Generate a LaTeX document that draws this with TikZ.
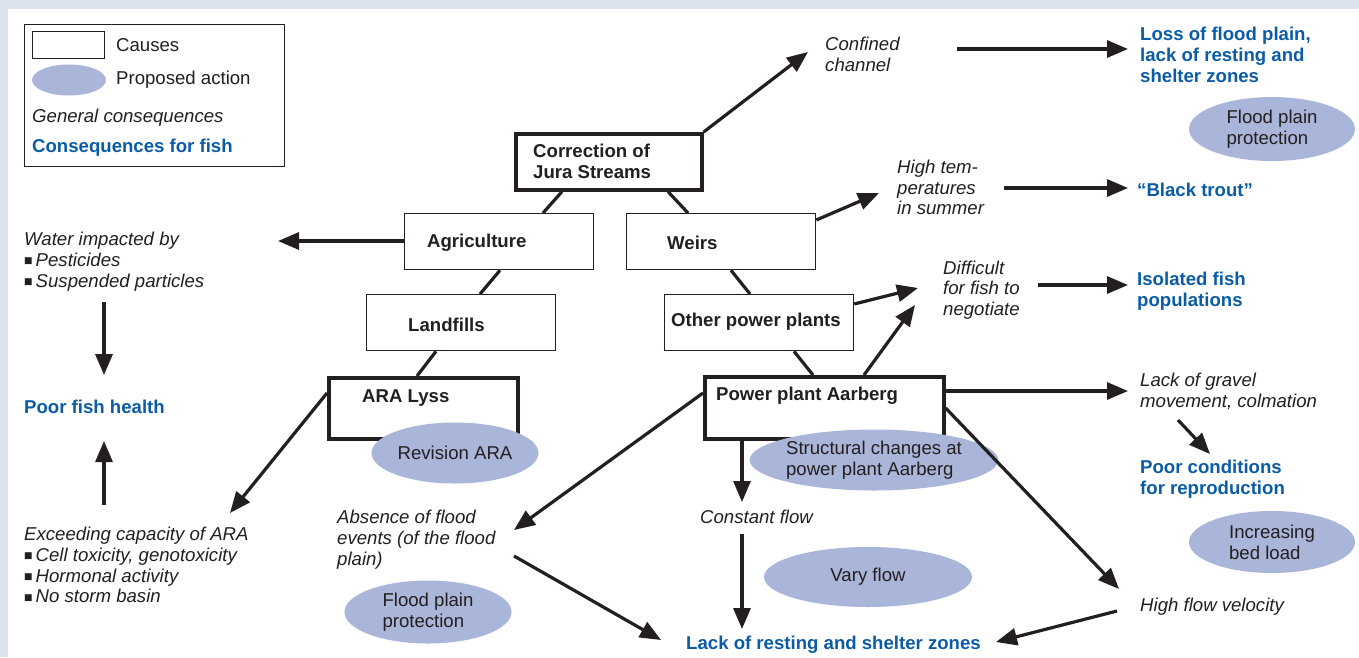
\documentclass[tikz,border=0pt]{standalone}
\usepackage{fontspec}
\setmainfont{Liberation Sans}
\newfontfamily\symfont{DejaVu Sans}
\usetikzlibrary{arrows.meta,shapes.geometric,calc}
\definecolor{bandc}{HTML}{DDE3EE}
\definecolor{actfill}{HTML}{A9B5D9}
\definecolor{fishblue}{HTML}{0B5CA6}
\definecolor{ink}{HTML}{231F20}
\newcommand{\bodyfont}{\fontsize{18.6}{20.8}\selectfont}
\newcommand{\sqb}{\raisebox{2.6pt}{\symfont\fontsize{9}{9}\selectfont ■}\hspace{3pt}}
\begin{document}
\begin{tikzpicture}[x=1pt,y=-1pt,
  every node/.append style={text=ink},
  box/.style={draw=ink, line width=1.3pt, fill=white, minimum width=189pt, minimum height=56pt, anchor=north west, inner sep=0},
  tbox/.style={box, line width=3.6pt},
  btxt/.style={font=\bodyfont\bfseries, anchor=west, inner sep=0, align=left},
  act/.style={ellipse, fill=actfill, inner sep=0, font=\bodyfont, align=left},
  gen/.style={font=\bodyfont\itshape, anchor=west, inner sep=0, align=left},
  fish/.style={font=\bodyfont\bfseries, text=fishblue, anchor=west, inner sep=0, align=left},
  plain/.style={font=\bodyfont, anchor=west, inner sep=0, align=left},
  link/.style={draw=ink, line width=3.2pt},
  arr/.style={draw=ink, line width=3.2pt, -{Triangle[length=21pt,width=17pt]}}
]
\useasboundingbox (0,0) rectangle (1359,657);
\fill[white] (0,0) rectangle (1359,657);
\fill[bandc] (0,0) rectangle (1359,9);
\fill[bandc] (0,0) rectangle (8,657);

% legend
\node[draw=ink, line width=1.2pt, minimum width=260pt, minimum height=142pt, anchor=north west, inner sep=0] (legend) at (24,24) {};
\node[draw=ink, line width=1.2pt, minimum width=72pt, minimum height=27pt, anchor=north west, inner sep=0] (lgbox) at (32,31) {};
\node[ellipse, fill=actfill, minimum width=74pt, minimum height=31pt, inner sep=0] (lgell) at (69,80) {};
\node[plain] (lgcause) at (116,45) {Causes};
\node[plain] (lgact) at (116,80) {Proposed action};
\node[gen] (lggen) at (32,118) {General consequences};
\node[fish] (lgfish) at (32,148) {Consequences for fish};

% cause boxes
\node[tbox, minimum width=186pt] (corr) at (514,132) {};
\node[btxt] (corrt) at (533,161) {Correction of\\Jura Streams};
\node[box] (agri) at (404,213) {};
\node[btxt] (agrit) at (427,243) {Agriculture};
\node[box] (weirs) at (626,213) {};
\node[btxt] (weirst) at (667,243) {Weirs};
\node[box] (land) at (366,294) {};
\node[btxt] (landt) at (408,325) {Landfills};
\node[box] (other) at (664,294) {};
\node[btxt] (othert) at (671,322) {Other power plants};
\node[tbox, minimum height=61pt] (ara) at (327,376) {};
\node[btxt] (arat) at (362,398) {ARA Lyss};
\node[tbox, minimum width=239pt, minimum height=62pt] (aar) at (703,375) {};
\node[btxt] (aart) at (716,396) {Power plant Aarberg};

% links between boxes
\draw[link] ($(corr.south west)+(48,0)$) -- ($(agri.north west)+(139,0)$);
\draw[link] ($(corr.south west)+(154,0)$) -- ($(weirs.north west)+(62,0)$);
\draw[link] ($(agri.south west)+(96,0)$) -- ($(land.north west)+(114,0)$);
\draw[link] ($(weirs.south west)+(105,0)$) -- ($(other.north west)+(86,0)$);
\draw[link] ($(land.south west)+(70,0)$) -- ($(ara.north west)+(90,0)$);
\draw[link] ($(other.south west)+(130,0)$) -- ($(aar.north west)+(110,0)$);

% proposed actions
\node[act, minimum width=166pt, minimum height=64pt] (fpp1) at (1272,129) {Flood plain\\protection};
\node[act, minimum width=167pt, minimum height=61pt] (rev) at (455,453) {Revision ARA};
\node[act, minimum width=209pt, minimum height=61pt] (struct) at (874,460) {Structural changes at\\power plant Aarberg};
\node[act, minimum width=208pt, minimum height=60pt] (vary) at (868,577) {Vary flow};
\node[act, minimum width=166pt, minimum height=62pt] (bed) at (1272,542) {Increasing\\bed load};
\node[act, minimum width=167pt, minimum height=63pt] (fpp2) at (428,612) {Flood plain\\protection};

% consequences
\node[gen] (conf) at (825,54) {Confined\\channel};
\node[fish] (loss) at (1140,55) {Loss of flood plain,\\lack of resting and\\shelter zones};
\node[gen] (hight) at (897,187.5) {High tem-\\peratures\\in summer};
\node[fish] (trout) at (1137,190) {“Black trout”};
\node[gen] (water) at (24,261.5) {Water impacted by\\\sqb Pesticides\\\sqb Suspended particles};
\node[fish] (poorh) at (24,407) {Poor fish health};
\node[gen] (exceed) at (24,565) {Exceeding capacity of ARA\\\sqb Cell toxicity, genotoxicity\\\sqb Hormonal activity\\\sqb No storm basin};
\node[gen] (diff) at (943,290) {Difficult\\for fish to\\negotiate};
\node[fish] (iso) at (1137,291) {Isolated fish\\populations};
\node[gen] (gravel) at (1140,391.5) {Lack of gravel\\movement, colmation};
\node[fish] (poorrep) at (1140,479.5) {Poor conditions\\for reproduction};
\node[gen] (absence) at (337,539.5) {Absence of flood\\events (of the flood\\plain)};
\node[gen] (const) at (700,517) {Constant flow};
\node[gen] (hfv) at (1140,607) {High flow velocity};
\node[fish] (lackrest) at (686,645) {Lack of resting and shelter zones};

% arrow end points
\coordinate (eConf) at (808,52);
\coordinate (sConf) at (957,49);
\coordinate (eLoss) at (1128,49);
\coordinate (eHigh) at (879,193);
\coordinate (sHigh) at (1004,188);
\coordinate (eTrout) at (1128,188);
\coordinate (eWater) at (278,241);
\coordinate (eDiff1) at (918,288);
\coordinate (eDiff2) at (915,305);
\coordinate (sDiff) at (1038,285);
\coordinate (eIso) at (1128,285);
\coordinate (eGravel) at (1128,391);
\coordinate (sGravel) at (1178,420);
\coordinate (ePoorRep) at (1210,454);
\coordinate (eHfv) at (1119,589);
\coordinate (sHfv) at (1117,611);
\coordinate (eLack1) at (996,642);
\coordinate (eConst) at (742,502);
\coordinate (sConst) at (742,534);
\coordinate (eLack2) at (742,629);
\coordinate (eAbs) at (514,530);
\coordinate (sAbs) at (514,556);
\coordinate (eLack3) at (661,640);
\coordinate (eExc) at (230,513);
\coordinate (sWater) at (104,302);
\coordinate (ePoor1) at (104,375);
\coordinate (sExc) at (104,505);
\coordinate (ePoor2) at (104,441);

% arrows
\draw[arr] (corr.north east) -- (eConf);
\draw[arr] (sConf) -- (eLoss);
\draw[arr] ($(weirs.north east)+(0,7)$) -- (eHigh);
\draw[arr] (sHigh) -- (eTrout);
\draw[arr] ($(agri.north west)+(0,28)$) -- (eWater);
\draw[arr] ($(other.north east)+(0,10)$) -- (eDiff1);
\draw[arr] ($(aar.north west)+(161,0)$) -- (eDiff2);
\draw[arr] (sDiff) -- (eIso);
\draw[arr] ($(aar.north east)+(0,16)$) -- (eGravel);
\draw[arr] (sGravel) -- (ePoorRep);
\draw[arr] ($(aar.north east)+(0,33)$) -- (eHfv);
\draw[arr] (sHfv) -- (eLack1);
\draw[arr] ($(aar.south west)+(39,0)$) -- (eConst);
\draw[arr] (sConst) -- (eLack2);
\draw[arr] ($(aar.north west)+(0,18)$) -- (eAbs);
\draw[arr] (sAbs) -- (eLack3);
\draw[arr] ($(ara.north west)+(0,17)$) -- (eExc);
\draw[arr] (sWater) -- (ePoor1);
\draw[arr] (sExc) -- (ePoor2);
\end{tikzpicture}
\end{document}
